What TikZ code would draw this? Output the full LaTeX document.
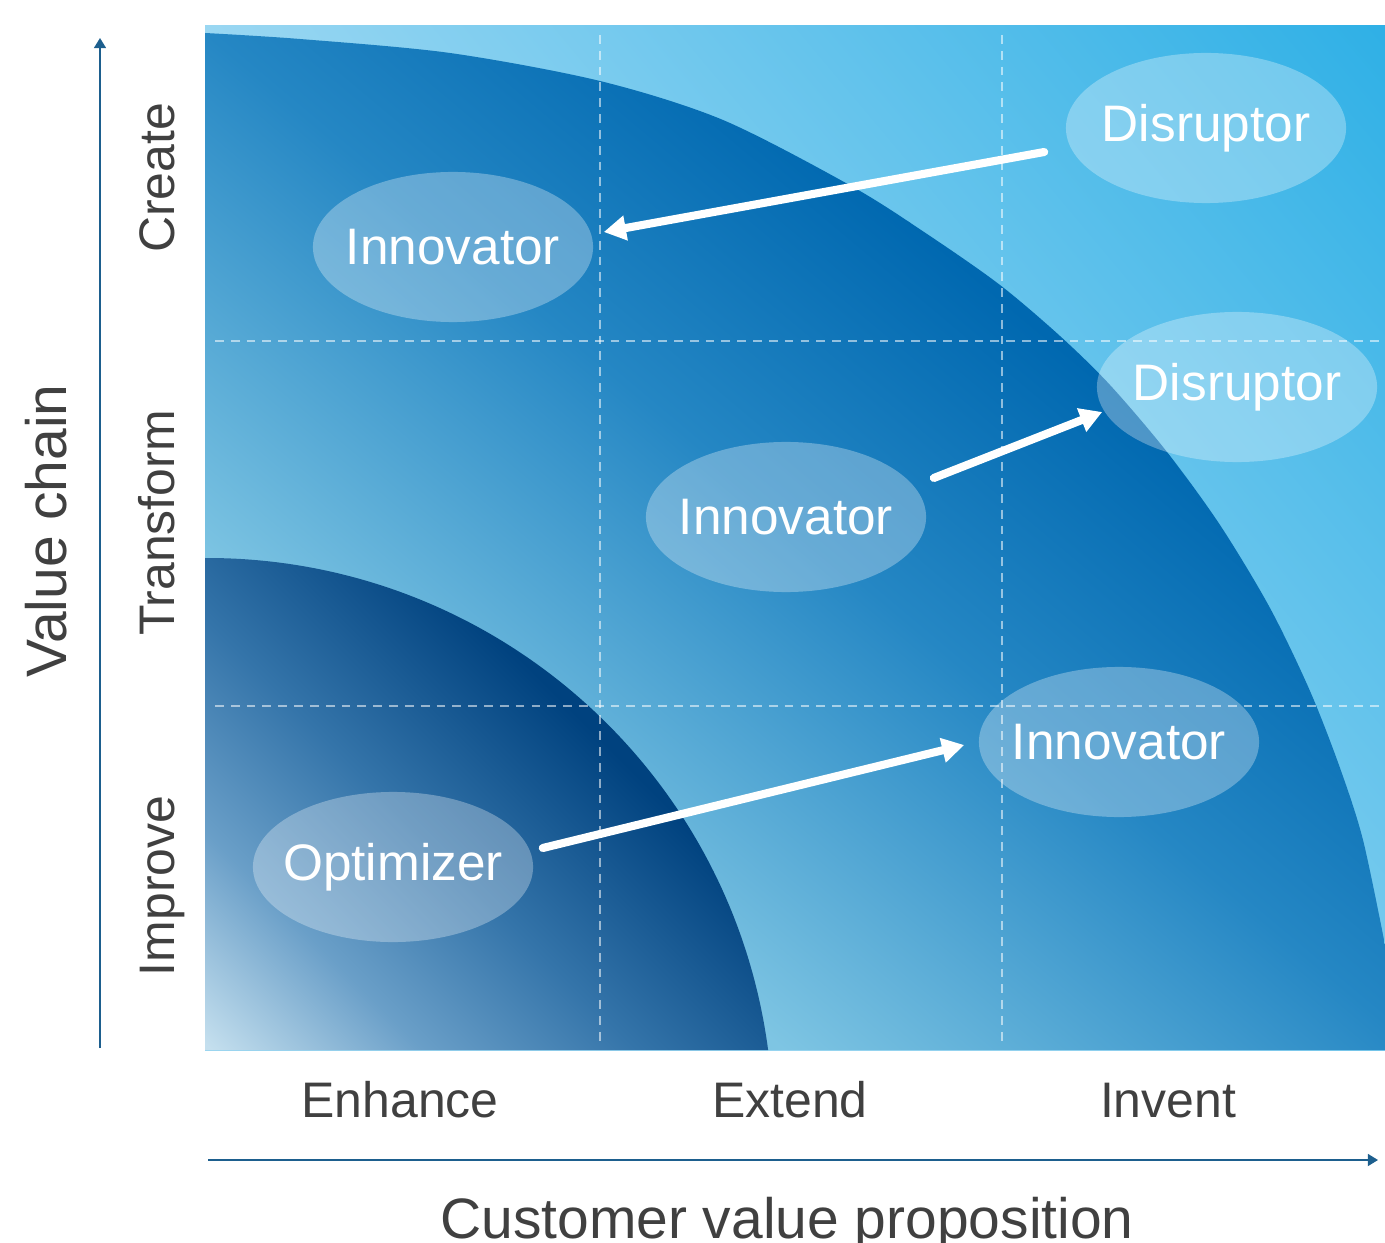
\documentclass[tikz,border=0pt]{standalone}
\usepackage{fontspec}
\setmainfont{Liberation Sans}
\usetikzlibrary{arrows.meta,shapes.geometric}
\definecolor{oL}{HTML}{9AD7F2}
\definecolor{oR}{HTML}{2FB0E6}
\definecolor{bL}{HTML}{7EC5E3}
\definecolor{bM}{HTML}{2587C4}
\definecolor{bR}{HTML}{0068B0}
\definecolor{iA}{HTML}{C4DFEE}
\definecolor{iB}{HTML}{6A9FC8}
\definecolor{iC}{HTML}{3575AA}
\definecolor{iD}{HTML}{00427F}
\definecolor{labgray}{HTML}{404040}
\definecolor{axisblue}{HTML}{1D5F8E}
\pgfdeclarehorizontalshading{outershade}{100bp}{color(0bp)=(oL); color(46.38bp)=(oL); color(72.97bp)=(oR); color(100bp)=(oR)}
\pgfdeclarehorizontalshading{bigshade}{100bp}{color(0bp)=(bL); color(38.21bp)=(bL); color(50.26bp)=(bM); color(59.38bp)=(bR); color(100bp)=(bR)}
\pgfdeclarehorizontalshading{innershade}{100bp}{color(0bp)=(iA); color(27.09bp)=(iA); color(31.5bp)=(iB); color(35.9bp)=(iC); color(41.74bp)=(iD); color(100bp)=(iD)}
\begin{document}
\begin{tikzpicture}[x=0.01cm, y=-0.01cm,
  lab/.style={text=labgray, font=\fontsize{14.2pt}{17pt}\selectfont, inner sep=0},
  ttl/.style={text=labgray, font=\fontsize{16.2pt}{19pt}\selectfont, inner sep=0},
  blob/.style={ellipse, fill=white, fill opacity=0.3, text opacity=1, text=white,
    minimum width=2.8cm, minimum height=1.5cm, inner sep=0,
    font=\fontsize{14.6pt}{17pt}\selectfont},
  gridline/.style={white, opacity=0.55, line width=0.45pt, dash pattern=on 2.5pt off 2.0pt},
  flow/.style={white, line width=2.3pt, line cap=round, -{Triangle[length=6.3pt,width=6.8pt]}},
  axisline/.style={axisblue, line width=0.55pt, -{Triangle[length=2.9pt,width=3.4pt]}}]
\useasboundingbox (0,0) rectangle (1385,1243);
% outer background
\begin{scope}
  \clip (205,26) rectangle (1385,1050);
  \shade[shading=outershade, shading angle=40] (-55,-312) rectangle (1645,1388);
\end{scope}
% big quarter region
\begin{scope}
  \clip (205,1050) -- plot[smooth] coordinates {(205,33) (300,39) (450,53) (600,81) (723,120) (853,187) (930,236) (1000,285) (1060,336) (1110,385) (1167,452) (1220,525) (1270,608) (1310,691) (1340,768) (1363,840) (1385,945)} -- (1385,1050) -- cycle;
  \shade[shading=bigshade, shading angle=50] (-55,-312) rectangle (1645,1388);
\end{scope}
% inner quarter region
\begin{scope}
  \clip (205,1050) -- (205,558) -- (207,558) arc[start angle=-90, end angle=-7.51, radius=566] -- cycle;
  \shade[shading=innershade, shading angle=45] (-55,-312) rectangle (1645,1388);
\end{scope}
% grid
\draw[gridline] (600,35) -- (600,1046);
\draw[gridline] (1002,35) -- (1002,1046);
\draw[gridline] (215,341) -- (1385,341);
\draw[gridline] (215,706) -- (1385,706);
% ellipses
\node[blob] (i1) at (453,247) {\makebox[0pt]{Innovator}};
\node[blob] (d1) at (1206,128) {\makebox[0pt]{Disruptor}};
\node[blob] (d2) at (1237,387) {\makebox[0pt]{Disruptor}};
\node[blob] (i2) at (786,517) {\makebox[0pt]{Innovator}};
\node[blob] (i3) at (1119,742) {\makebox[0pt]{Innovator}};
\node[blob] (op) at (393,867) {\makebox[0pt]{Optimizer}};
% arrows
\draw[flow] ([shift={(-21,24)}]d1.west) -- ([shift={(10,-15)}]i1.east);
\draw[flow] ([shift={(7,-39)}]i2.east) -- ([shift={(6,25)}]d2.west);
\draw[flow] ([shift={(9,-19)}]op.east) -- ([shift={(-14,3)}]i3.west);
% axes
\coordinate (ya) at (100,1048);
\coordinate (yb) at (100,38);
\coordinate (xa) at (208,1160);
\coordinate (xb) at (1378,1160);
\draw[axisline] (ya) -- (yb);
\draw[axisline] (xa) -- (xb);
% labels
\node[ttl, rotate=90, anchor=base] (vc) at (66,531) {Value chain};
\node[lab, rotate=90, anchor=base] (cr) at (174,178) {Create};
\node[lab, rotate=90, anchor=base] (tr) at (174,523) {Transform};
\node[lab, rotate=90, anchor=base] (im) at (174,886) {Improve};
\node[lab, anchor=base] (en) at (400,1117) {Enhance};
\node[lab, anchor=base] (ex) at (790,1117) {Extend};
\node[lab, anchor=base] (iv) at (1168,1117) {Invent};
\node[ttl, anchor=base] (cvp) at (787,1238) {Customer value proposition};
\end{tikzpicture}
\end{document}
